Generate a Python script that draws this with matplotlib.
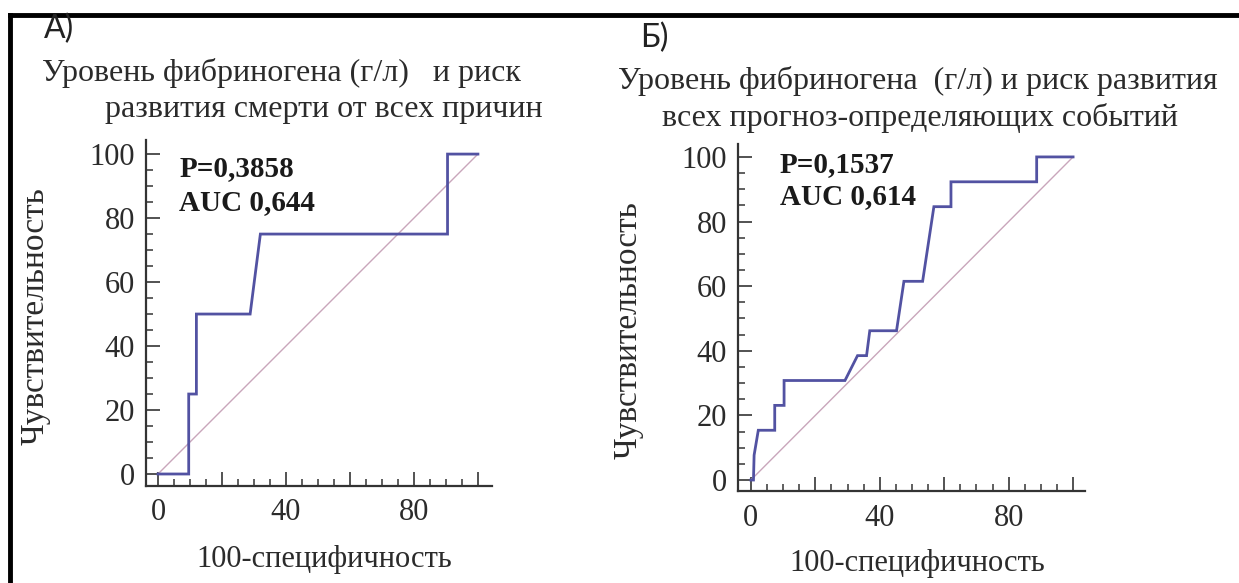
import matplotlib.pyplot as plt
from matplotlib.ticker import MultipleLocator, FuncFormatter
from matplotlib.lines import Line2D

# ROC curve, panel A (death from all causes)
fpr_a = [0, 9.6, 9.6, 12, 12, 28.8, 32, 90.5, 90.5, 100]
tpr_a = [0, 0, 25, 25, 50, 50, 75, 75, 100, 100]

# ROC curve, panel B (all prognosis-defining events)
fpr_b = [0, 0.8, 1.0, 2.3, 7.4, 7.4, 10.3, 10.3, 29.2, 33.1, 35.9, 36.9,
         45.2, 47.5, 53.3, 56.8, 62.1, 62.1, 88.7, 88.7, 100]
tpr_b = [0, 0, 7.7, 15.4, 15.4, 23.1, 23.1, 30.8, 30.8, 38.5, 38.5, 46.2,
         46.2, 61.5, 61.5, 84.6, 84.6, 92.3, 92.3, 100, 100]

titles_a = ["Уровень фибриногена (г/л)   и риск", "развития смерти от всех причин"]
titles_b = ["Уровень фибриногена  (г/л) и риск развития", "всех прогноз-определяющих событий"]
stats_a = ["P=0,3858", "AUC 0,644"]
stats_b = ["P=0,1537", "AUC 0,614"]

W, H = 1239, 583
fig = plt.figure(figsize=(W / 100, H / 100), dpi=100)
fig.patch.set_facecolor("white")

serif = "Liberation Serif"
txt_col = "#2b2b2b"
roc_col = "#5252a2"
diag_col = "#c9a6bb"


def px(x, y):
    return x / W, 1 - y / H


def make_axes(left, top, right, bottom, xlim, ylim):
    ax = fig.add_axes([left / W, 1 - bottom / H, (right - left) / W, (bottom - top) / H])
    ax.set_xlim(*xlim)
    ax.set_ylim(*ylim)
    for s in ["top", "right"]:
        ax.spines[s].set_visible(False)
    for s in ["left", "bottom"]:
        ax.spines[s].set_color("#333333")
        ax.spines[s].set_linewidth(1.6)
    ax.xaxis.set_major_locator(MultipleLocator(20))
    ax.xaxis.set_minor_locator(MultipleLocator(5))
    ax.yaxis.set_major_locator(MultipleLocator(20))
    ax.yaxis.set_minor_locator(MultipleLocator(5))
    ax.xaxis.set_major_formatter(FuncFormatter(lambda v, p: f"{v:.0f}" if round(v) % 40 == 0 and 0 <= v <= 80 else ""))
    ax.tick_params(which="major", direction="in", length=10, width=1.3, color="#444444",
                   labelsize=22, labelcolor=txt_col)
    ax.tick_params(which="minor", direction="in", length=5, width=1.2, color="#444444")
    ax.tick_params(axis="x", which="major", pad=9)
    ax.tick_params(axis="y", which="major", pad=8)
    for lab in ax.get_xticklabels() + ax.get_yticklabels():
        lab.set_fontfamily(serif)
    return ax


ax_a = make_axes(146, 140, 492, 486, (-3.75, 104.4), (-3.75, 104.4))
ax_b = make_axes(738, 144, 1085, 491, (-4, 103.7), (-3.4, 104))

for ax, fx, ty, st, sx, sy in [(ax_a, fpr_a, tpr_a, stats_a, 6.6, (95.6, 84.7)),
                               (ax_b, fpr_b, tpr_b, stats_b, 9, (97.5, 87.6))]:
    ax.plot([0, 100], [0, 100], color=diag_col, lw=1.0, zorder=2)
    ax.plot(fx, ty, color=roc_col, lw=2.0, zorder=3, solid_joinstyle="miter")
    for line, yy in zip(st, sy):
        ax.text(sx, yy, line, fontfamily=serif, fontweight="bold",
                fontsize=21, color="#1a1a1a", va="center", ha="left")
    for lab in ax.get_xticklabels() + ax.get_yticklabels():
        lab.set_fontfamily(serif)

# panel letters
fig.text(*px(44, 29), "А)", fontfamily="Lato", fontsize=23, color="#222222", va="center", ha="left")
fig.text(*px(640, 38), "Б)", fontfamily="Lato", fontsize=23, color="#222222", va="center", ha="left")

# titles
fig.text(*px(42, 73), titles_a[0], fontfamily=serif, fontsize=23, color=txt_col, va="center", ha="left")
fig.text(*px(105, 109), titles_a[1], fontfamily=serif, fontsize=23, color=txt_col, va="center", ha="left")
fig.text(*px(618, 81), titles_b[0], fontfamily=serif, fontsize=23, color=txt_col, va="center", ha="left")
fig.text(*px(662, 118), titles_b[1], fontfamily=serif, fontsize=23, color=txt_col, va="center", ha="left")

# axis labels
fig.text(*px(35, 316), "Чувствительность", fontfamily=serif, fontsize=24, color=txt_col,
         rotation=90, va="center", ha="center")
fig.text(*px(628, 330), "Чувствительность", fontfamily=serif, fontsize=24, color=txt_col,
         rotation=90, va="center", ha="center")
fig.text(*px(324, 560), "100-специфичность", fontfamily=serif, fontsize=22, color=txt_col,
         va="center", ha="center")
fig.text(*px(917, 564), "100-специфичность", fontfamily=serif, fontsize=22, color=txt_col,
         va="center", ha="center")

# black frame (top and left edges)
fig.add_artist(Line2D([10 / W, 1], [1 - 15 / H, 1 - 15 / H], color="black", lw=3.5, transform=fig.transFigure))
fig.add_artist(Line2D([10 / W, 10 / W], [1 - 15 / H, 0], color="black", lw=3.5, transform=fig.transFigure))

fig.savefig("out.png", dpi=100)
